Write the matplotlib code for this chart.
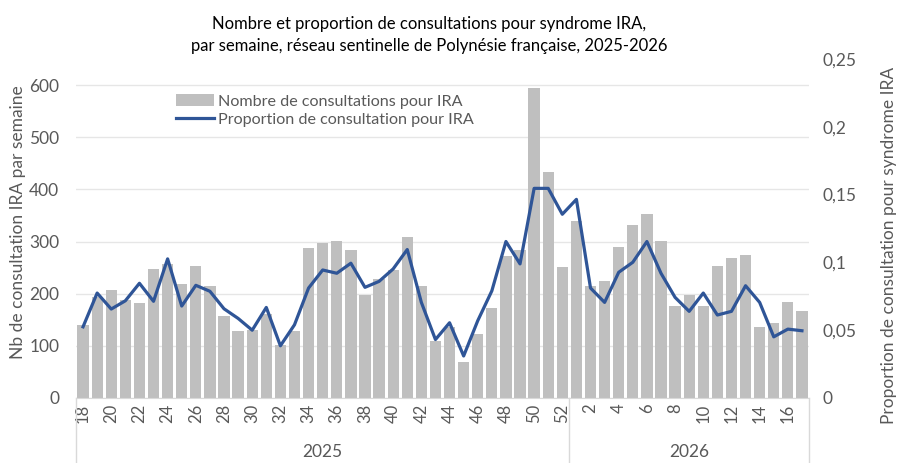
import numpy as np
import matplotlib.pyplot as plt
import matplotlib.transforms as mtransforms

plt.rcParams['font.family'] = ['Lato', 'DejaVu Sans']

# data
weeks_2025 = list(range(18, 53))
weeks_2026 = list(range(1, 18))
consult = [140, 194, 208, 187, 182, 247, 256, 218, 253, 215,
           158, 128, 130, 161, 102, 128, 287, 298, 301, 283,
           197, 229, 245, 308, 215, 110, 137, 69, 122, 173,
           272, 283, 595, 434, 251,
           340, 215, 224, 290, 331, 353, 301, 176, 197, 176,
           254, 269, 275, 137, 143, 185, 167]
proportion = [0.0525, 0.0774, 0.0656, 0.0717, 0.0846, 0.0713, 0.1026, 0.0678, 0.0831, 0.0787,
              0.0658, 0.0587, 0.0500, 0.0668, 0.0385, 0.0540, 0.0811, 0.0944, 0.0920, 0.0994,
              0.0816, 0.0860, 0.0952, 0.1095, 0.0705, 0.0431, 0.0555, 0.0310, 0.0570, 0.0790,
              0.1154, 0.0989, 0.1546, 0.1546, 0.1355,
              0.1465, 0.0811, 0.0705, 0.0927, 0.1001, 0.1154, 0.0920, 0.0742, 0.0639, 0.0774,
              0.0612, 0.0639, 0.0828, 0.0705, 0.0451, 0.0508, 0.0496]
years = ['2025', '2026']

weeks = weeks_2025 + weeks_2026
x = np.arange(len(weeks))
txt = '#595959'

fig = plt.figure(figsize=(9.01, 4.63), dpi=100, facecolor='white')
ax = fig.add_axes([76/901, (463-398)/463, 733/901, (398-59)/463])
ax2 = ax.twinx()

ax.bar(x, consult, width=0.8, color='#BFBFBF', zorder=2,
       label='Nombre de consultations pour IRA')
ax2.plot(x, proportion, color='#2F5597', lw=2.3,
         label='Proportion de consultation pour IRA')

ax.set_xlim(-0.5, len(weeks) - 0.5)
ax.set_ylim(0, 650)
ax.set_yticks(range(0, 700, 100))
ax2.set_ylim(0, 0.25)
ax2.set_yticks([0, 0.05, 0.1, 0.15, 0.2, 0.25])
ax2.set_yticklabels(['0', '0,05', '0,1', '0,15', '0,2', '0,25'])

ax.yaxis.grid(True, color='#E6E6E6', lw=1, zorder=0)
ax.set_axisbelow(True)
for a in (ax, ax2):
    for s in a.spines.values():
        s.set_visible(False)
    a.tick_params(length=0, colors=txt, labelsize=12.5)
ax.spines['bottom'].set_visible(True)
ax.spines['bottom'].set_color('#D9D9D9')
ax.tick_params(axis='y', pad=12)
ax2.tick_params(axis='y', pad=10)

# category ticks: every second week
ticks = x[::2]
ax.set_xticks(ticks)
ax.set_xticklabels([str(weeks[i]) for i in ticks], rotation=90, fontsize=12)
ax.tick_params(axis='x', pad=4)

# two-level axis: separators and year labels
trans = mtransforms.blended_transform_factory(ax.transData, ax.transAxes)
n25 = len(weeks_2025)
for xs in (-0.5, n25 - 0.5, len(weeks) - 0.5):
    ax.plot([xs, xs], [0, -0.2], color='#D9D9D9', lw=1, transform=trans, clip_on=False)
ax.text((n25 - 1) / 2, -0.16, years[0], transform=trans, ha='center', va='center',
        fontsize=12.5, color=txt)
ax.text(n25 + (len(weeks_2026) - 1) / 2, -0.16, years[1], transform=trans, ha='center',
        va='center', fontsize=12.5, color=txt)

ax.set_ylabel('Nb de consultation IRA par semaine', fontsize=12.5, color=txt)
ax.yaxis.set_label_coords(-50/733, 0.52)
ax2.set_ylabel('Proportion de consultation pour syndrome IRA', fontsize=12.5, color=txt)
ax2.yaxis.set_label_coords(1 + 72/733, 0.45)

fig.text(0.476, 0.965, 'Nombre et proportion de consultations pour syndrome IRA,\n'
         'par semaine, réseau sentinelle de Polynésie française, 2025-2026',
         ha='center', va='top', fontsize=12, color='black', linespacing=1.45)

h1, l1 = ax.get_legend_handles_labels()
h2, l2 = ax2.get_legend_handles_labels()
ax2.legend(h1 + h2, l1 + l2, loc='upper left', bbox_to_anchor=(170/901, 1 - 88/463),
           bbox_transform=fig.transFigure, frameon=False, fontsize=11.6,
           handlelength=2.35, handletextpad=0.25, labelspacing=0.25, labelcolor=txt,
           borderaxespad=0)

fig.savefig('out.png', dpi=100)
